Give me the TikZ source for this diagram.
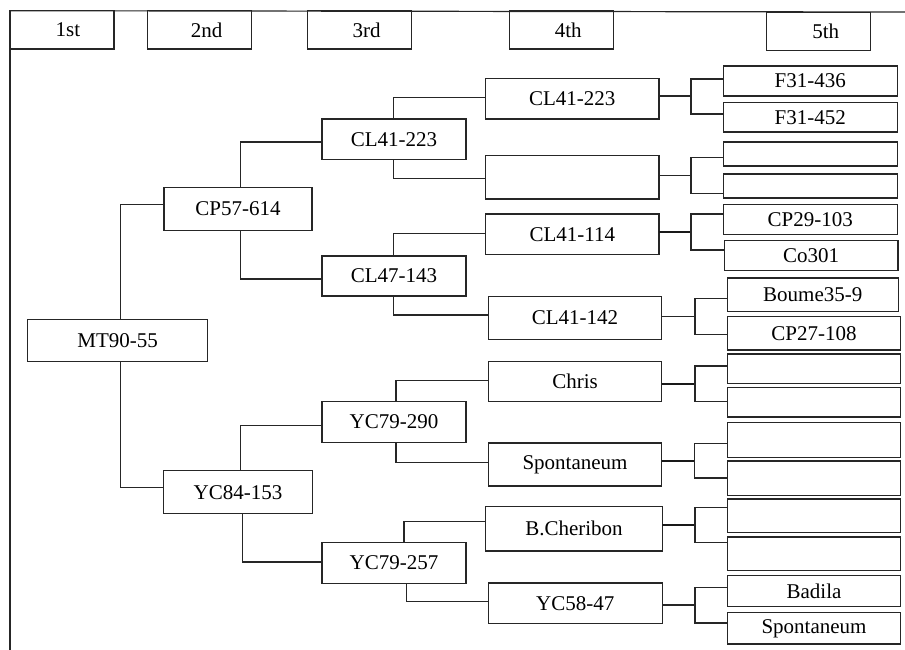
\documentclass[tikz,border=0pt]{standalone}
\usepackage{fontspec}
\setmainfont{Liberation Serif}
\usetikzlibrary{positioning}
\begin{document}
\begin{tikzpicture}[x=1pt,y=-1pt,
  ln/.style={line width=1.2pt,draw=black!85},
  tk/.style={line width=2pt,draw=black!90},
  bx/.style={ln,rectangle,inner sep=0pt,outer sep=0pt,font=\fontsize{21}{24}\selectfont,text=black},
  hd/.style={bx,minimum width=104pt,minimum height=38.3pt}]
\useasboundingbox (0,0) rectangle (905,650);
% header
\node[hd] (h1) at (62,29.85) {\hspace*{12pt}1st};
\node[hd] (h2) at (199.7,29.85) {\hspace*{14pt}2nd};
\node[hd] (h3) at (359.5,29.85) {\hspace*{14pt}3rd};
\node[hd] (h4) at (561.2,29.85) {\hspace*{14pt}4th};
\node[hd] (h5) at (818.7,31.5) {\hspace*{14pt}5th};
\coordinate (tr) at (905,12);
\coordinate (bl) at (10,650);
\draw[ln] (h1.north west) -- (tr);
\draw[ln] (h1.south west) -- (bl);
% 1st and 2nd
\node[bx,minimum width=180pt,minimum height=42.4pt] (mt) at (117.7,340.5) {MT90-55};
\node[bx,minimum width=148pt,minimum height=43pt] (cp) at (238,208.8) {CP57-614};
\node[bx,minimum width=148.6pt,minimum height=43pt] (yc) at (238,492.2) {YC84-153};
% 3rd
\node[bx,minimum width=144pt,minimum height=40.3pt] (n31) at (394,139.2) {CL41-223};
\node[bx,minimum width=144pt,minimum height=40pt] (n32) at (394,276) {CL47-143};
\node[bx,minimum width=144pt,minimum height=40.6pt] (n33) at (394,422) {YC79-290};
\node[bx,minimum width=144pt,minimum height=41pt] (n34) at (394,562.8) {YC79-257};
% 4th
\node[bx,minimum width=173.3pt,minimum height=40.7pt] (n41) at (572.3,98.7) {CL41-223};
\node[bx,minimum width=173.3pt,minimum height=43.3pt] (n42) at (572.3,177.3) {};
\node[bx,minimum width=173.3pt,minimum height=40.3pt] (n43) at (572.3,234.2) {CL41-114};
\node[bx,minimum width=173.4pt,minimum height=43pt] (n44) at (575,317.8) {CL41-142};
\node[bx,minimum width=173.4pt,minimum height=40pt] (n45) at (575,381.7) {Chris};
\node[bx,minimum width=173.4pt,minimum height=43pt] (n46) at (575,464.5) {Spontaneum};
\node[bx,minimum width=176.6pt,minimum height=44.3pt] (n47) at (574,528.8) {B.Cheribon};
\node[bx,minimum width=174pt,minimum height=40.3pt] (n48) at (575.3,603.2) {YC58-47};
% 5th
\node[bx,minimum width=174pt,minimum height=30pt] (a1) at (810.3,81) {F31-436};
\node[bx,minimum width=174pt,minimum height=29.7pt] (a2) at (810.3,117.2) {F31-452};
\node[bx,minimum width=174pt,minimum height=24pt] (a3) at (810.3,154) {};
\node[bx,minimum width=174pt,minimum height=24pt] (a4) at (810.3,186) {};
\node[bx,minimum width=174pt,minimum height=30pt] (a5) at (810.3,219.7) {CP29-103};
\node[bx,minimum width=173.7pt,minimum height=30pt] (a6) at (811.2,255.3) {Co301};
\node[bx,minimum width=171pt,minimum height=33.7pt] (a7) at (812.8,294.8) {Boume35-9};
\node[bx,minimum width=173.4pt,minimum height=33.7pt] (a8) at (814,333.2) {CP27-108};
\node[bx,minimum width=173.4pt,minimum height=29.7pt] (a9) at (814,368.8) {};
\node[bx,minimum width=173.4pt,minimum height=29.7pt] (a10) at (814,402.2) {};
\node[bx,minimum width=173.4pt,minimum height=34.6pt] (a11) at (814,440) {};
\node[bx,minimum width=173.4pt,minimum height=34.3pt] (a12) at (814,478.2) {};
\node[bx,minimum width=173.4pt,minimum height=33.3pt] (a13) at (814,515.7) {};
\node[bx,minimum width=173.4pt,minimum height=33.3pt] (a14) at (814,553.7) {};
\node[bx,minimum width=173.4pt,minimum height=31pt] (a15) at (814,591.2) {Badila};
\node[bx,minimum width=173.4pt,minimum height=31.3pt] (a16) at (814,628.3) {Spontaneum};
% tree connectors
\draw[ln] ([xshift=3pt]mt.north) |- ([yshift=4.1pt]cp.west);
\draw[ln] ([xshift=3pt]mt.south) |- ([yshift=4.5pt]yc.west);
\draw[ln] ([xshift=2.7pt]cp.north) |- ([yshift=-2.8pt]n31.west);
\draw[ln] ([xshift=2.7pt]cp.south) |- ([yshift=-3pt]n32.west);
\draw[ln] ([xshift=2.7pt]yc.north) |- ([yshift=-3.3pt]n33.west);
\draw[ln] ([xshift=4.3pt]yc.south) |- ([yshift=0.8pt]n34.west);
\draw[ln] ([xshift=-0.7pt]n31.north) |- ([yshift=1pt]n41.west);
\draw[ln] ([xshift=-0.7pt]n31.south) |- ([yshift=-1pt]n42.west);
\draw[ln] ([xshift=-0.7pt]n32.north) |- ([yshift=0.9pt]n43.west);
\draw[ln] ([xshift=-0.7pt]n32.south) |- ([yshift=2.8pt]n44.west);
\draw[ln] ([xshift=2pt]n33.north) |- ([yshift=1.4pt]n45.west);
\draw[ln] ([xshift=2pt]n33.south) |- ([yshift=2.2pt]n46.west);
\draw[ln] ([xshift=10pt]n34.north) |- ([yshift=7.1pt]n47.west);
\draw[ln] ([xshift=12.7pt]n34.south) |- ([yshift=1.5pt]n48.west);
% forks
\coordinate (f1) at (691,96);
\coordinate (f2) at (691,175.7);
\coordinate (f3) at (691,232);
\coordinate (f4) at (695,316.7);
\coordinate (f5) at (695,383.7);
\coordinate (f6) at (694.3,460.7);
\coordinate (f7) at (695,524.7);
\coordinate (f8) at (695,605);
\draw[ln] (n41.east |- f1) -- (f1);
\draw[ln] ([yshift=2pt]a1.west) -| (f1) |- ([yshift=3.2pt]a2.west);
\draw[ln] (n42.east |- f2) -- (f2);
\draw[ln] ([yshift=-3.7pt]a3.west) -| (f2) |- ([yshift=-7.3pt]a4.west);
\draw[tk] (n43.east |- f3) -- (f3);
\draw[ln] ([yshift=5.7pt]a5.west) -| (f3) |- ([yshift=5.3pt]a6.west);
\draw[ln] (n44.east |- f4) -- (f4);
\draw[ln] ([yshift=-3.5pt]a7.west) -| (f4) |- ([yshift=-1.1pt]a8.west);
\draw[tk] (n45.east |- f5) -- (f5);
\draw[ln] ([yshift=2.8pt]a9.west) -| (f5) |- ([yshift=0.5pt]a10.west);
\draw[tk] (n46.east |- f6) -- (f6);
\draw[ln] ([yshift=-3.3pt]a11.west) -| (f6) |- ([yshift=0.2pt]a12.west);
\draw[tk] (n47.east |- f7) -- (f7);
\draw[ln] ([yshift=8.4pt]a13.west) -| (f7) |- ([yshift=11.4pt]a14.west);
\draw[ln] (n48.east |- f8) -- (f8);
\draw[ln] ([yshift=3.5pt]a15.west) -| (f8) |- ([yshift=5.3pt]a16.west);
\end{tikzpicture}
\end{document}
